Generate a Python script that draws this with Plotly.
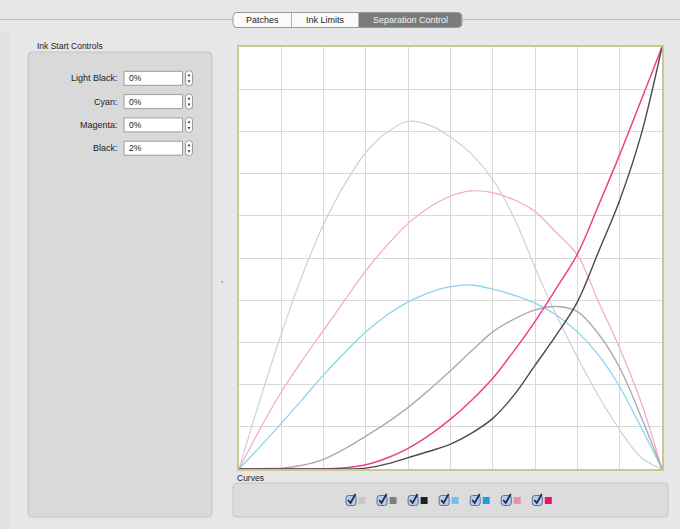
import plotly.graph_objects as go

# ── Curve data (percent input -> percent ink), read every 5 % ────────────
x_pct = [0, 5, 10, 15, 20, 25, 30, 35, 40, 45, 50, 55, 60, 65, 70, 75, 80, 85, 90, 95, 100]

y_light_black = [0, 16.5, 32, 46, 58, 67.5, 75, 79.8, 82.4, 81.5, 78.7, 74.6, 68.6, 59.6, 47.7, 36.5, 26.5, 17.3, 9.3, 2.8, 0]
y_gray = [0, 0.1, 0.2, 0.9, 2.3, 4.8, 7.8, 11, 14.6, 18.8, 23.3, 28, 32.5, 35.5, 37.7, 38.5, 37.3, 32, 24, 12.5, 0]
y_black = [0, 0, 0, 0, 0, 0, 0.2, 1.2, 2.7, 4.2, 5.9, 8.5, 12, 17.5, 24.6, 31.7, 39.6, 51.5, 63.7, 79, 100]
y_light_cyan = [0, 5.3, 10.8, 16.5, 22.3, 27.6, 32.5, 36.5, 39.6, 41.8, 43.2, 43.6, 42.6, 41.2, 39.3, 36.5, 32.5, 27, 19.5, 10, 0]
y_light_magenta = [0, 9.5, 18.3, 25.8, 32.9, 40, 47, 53, 58.2, 62, 64.7, 65.9, 65.5, 63.8, 61, 56, 50.7, 39.6, 28.6, 16, 0]
y_magenta = [0, 0, 0, 0, 0, 0.3, 1, 2.6, 4.9, 8, 11.8, 16.3, 21.5, 28, 35, 42.8, 50.9, 62.5, 74.5, 87.2, 100]

curve_swatches = ["#c6c6c6", "#808080", "#222222", "#6cc6ec", "#1b9fdf", "#ec8fb0", "#e3146c"]

tab_labels = ["Patches", "Ink Limits", "Separation Control"]
field_labels = ["Light Black:", "Cyan:", "Magenta:", "Black:"]
field_values = ["0%", "0%", "0%", "2%"]

# ── Helpers: pixel -> paper coordinates ──────────────────────────────────
W, H = 680, 529
FONT = "Liberation Sans, Arial, sans-serif"


def px(x):
    return x / W


def py(y):
    return 1 - y / H


def rrect(x0, y0, x1, y1, r, fill, line="#c6c6c6", lw=1):
    p = (f"M {px(x0 + r)},{py(y0)} L {px(x1 - r)},{py(y0)} "
         f"Q {px(x1)},{py(y0)} {px(x1)},{py(y0 + r)} "
         f"L {px(x1)},{py(y1 - r)} Q {px(x1)},{py(y1)} {px(x1 - r)},{py(y1)} "
         f"L {px(x0 + r)},{py(y1)} Q {px(x0)},{py(y1)} {px(x0)},{py(y1 - r)} "
         f"L {px(x0)},{py(y0 + r)} Q {px(x0)},{py(y0)} {px(x0 + r)},{py(y0)} Z")
    return dict(type="path", path=p, xref="paper", yref="paper",
                fillcolor=fill, line=dict(color=line, width=lw), layer="below")


def hline(x0, x1, y, color, w=1):
    return dict(type="line", xref="paper", yref="paper", x0=px(x0), x1=px(x1),
                y0=py(y), y1=py(y), line=dict(color=color, width=w), layer="below")


def text(s, x, y, anchor="left", size=9, color="#222222"):
    return dict(text=s, x=px(x), y=py(y), xref="paper", yref="paper",
                xanchor=anchor, yanchor="middle", showarrow=False,
                font=dict(family=FONT, size=size, color=color))


fig = go.Figure()

curves = [
    (y_light_black, "Light Black", "#d0d0d0", 1.2),
    (y_light_magenta, "Light Magenta", "#f2a9c5", 1.2),
    (y_light_cyan, "Light Cyan", "#8ed2f0", 1.3),
    (y_gray, "Gray", "#ababab", 1.4),
    (y_magenta, "Magenta", "#ec3f8e", 1.5),
    (y_black, "Black", "#4a4a4a", 1.4),
]
for ys, name, color, w in curves:
    fig.add_trace(go.Scatter(
        x=x_pct, y=ys, mode="lines", name=name,
        line=dict(color=color, width=w, shape="spline", smoothing=1.0),
        hoverinfo="skip",
    ))

shapes = []
annotations = []

# top tab bar
shapes.append(hline(0, 233, 19.5, "#c2c2c2"))
shapes.append(hline(462, 680, 19.5, "#c2c2c2"))
shapes.append(rrect(233, 12.5, 462, 27.5, 4, "#fafafa", "#9a9a9a"))
shapes.append(dict(type="path", xref="paper", yref="paper", layer="below",
                   path=(f"M {px(358.5)},{py(13)} L {px(458)},{py(13)} "
                         f"Q {px(461.5)},{py(13)} {px(461.5)},{py(16.5)} "
                         f"L {px(461.5)},{py(23.5)} Q {px(461.5)},{py(27)} {px(458)},{py(27)} "
                         f"L {px(358.5)},{py(27)} Z"),
                   fillcolor="#7b7b7b", line=dict(width=0)))
shapes.append(dict(type="line", xref="paper", yref="paper", x0=px(291.5), x1=px(291.5),
                   y0=py(13), y1=py(27), line=dict(color="#b0b0b0", width=1)))
annotations.append(text(tab_labels[0], 262, 20, "center", 9))
annotations.append(text(tab_labels[1], 325, 20, "center", 9))
annotations.append(text(tab_labels[2], 410, 20, "center", 9, "#f4f4f4"))

# left panel
shapes.append(dict(type="rect", xref="paper", yref="paper", x0=0, x1=px(9), y0=0, y1=py(32),
                   fillcolor="#e1e1e1", line=dict(width=0), layer="below"))
annotations.append(text("Ink Start Controls", 35, 46, "left", 8.5))
shapes.append(rrect(28, 52, 212, 517, 4, "#d9d9d9", "#c4c4c4"))
for i, (lab, val) in enumerate(zip(field_labels, field_values)):
    yc = 78.3 + i * 23.3
    annotations.append(text(lab, 120, yc, "right", 9))
    shapes.append(dict(type="rect", xref="paper", yref="paper", layer="below",
                       x0=px(124), x1=px(182.5), y0=py(yc - 7), y1=py(yc + 7),
                       fillcolor="#ffffff", line=dict(color="#9c9c9c", width=1)))
    annotations.append(text(val, 127, yc, "left", 8.5))
    shapes.append(rrect(185.5, yc - 7.5, 192.5, yc + 7.5, 3, "#fbfbfb", "#9a9a9a"))
    shapes.append(dict(type="path", xref="paper", yref="paper",
                       path=(f"M {px(187.5)},{py(yc - 2)} L {px(190.5)},{py(yc - 2)} "
                             f"L {px(189)},{py(yc - 4.5)} Z M {px(187.5)},{py(yc + 2)} "
                             f"L {px(190.5)},{py(yc + 2)} L {px(189)},{py(yc + 4.5)} Z"),
                       fillcolor="#444444", line=dict(width=0)))

# splitter handle
shapes.append(hline(221, 223.5, 282, "#8a8a8a", 1))

# curves panel
annotations.append(text("Curves", 235, 477.5, "left", 8.5))
shapes.append(rrect(233, 483, 668, 517, 4, "#dcdcdc", "#c6c6c6"))
for i, col in enumerate(curve_swatches):
    cx = 351 + i * 31.05
    cy = 500.5
    shapes.append(rrect(cx - 5, cy - 5, cx + 5, cy + 5, 2.5, "#b9cce8", "#5f7194"))
    shapes.append(dict(type="path", xref="paper", yref="paper",
                       path=(f"M {px(cx - 3)},{py(cy - 0.5)} L {px(cx - 0.5)},{py(cy + 2.5)} "
                             f"L {px(cx + 4.5)},{py(cy - 6.5)}"),
                       line=dict(color="#1c2a50", width=1.8)))
    shapes.append(dict(type="rect", xref="paper", yref="paper",
                       x0=px(cx + 7.5), x1=px(cx + 14.5), y0=py(cy + 3.5), y1=py(cy - 3.5),
                       fillcolor=col, line=dict(width=0)))

axis_common = dict(
    range=[0, 100], dtick=10, showgrid=True, gridcolor="#d9d9d9", gridwidth=1.4,
    showticklabels=False, ticks="", zeroline=False,
    showline=True, mirror=True, linecolor="#c9c98e", linewidth=2, fixedrange=True,
)

fig.update_layout(
    width=W, height=H,
    margin=dict(l=0, r=0, t=0, b=0),
    paper_bgcolor="#e7e7e7",
    plot_bgcolor="#ffffff",
    showlegend=False,
    xaxis=dict(domain=[px(239), px(662)], **axis_common),
    yaxis=dict(domain=[py(469), py(47)], **axis_common),
    shapes=shapes,
    annotations=annotations,
)

# drop the browser's default 8px body margin so the figure fills the window
fig.write_html("out.html", config={"displayModeBar": False},
               post_script="document.body.style.margin='0';")
